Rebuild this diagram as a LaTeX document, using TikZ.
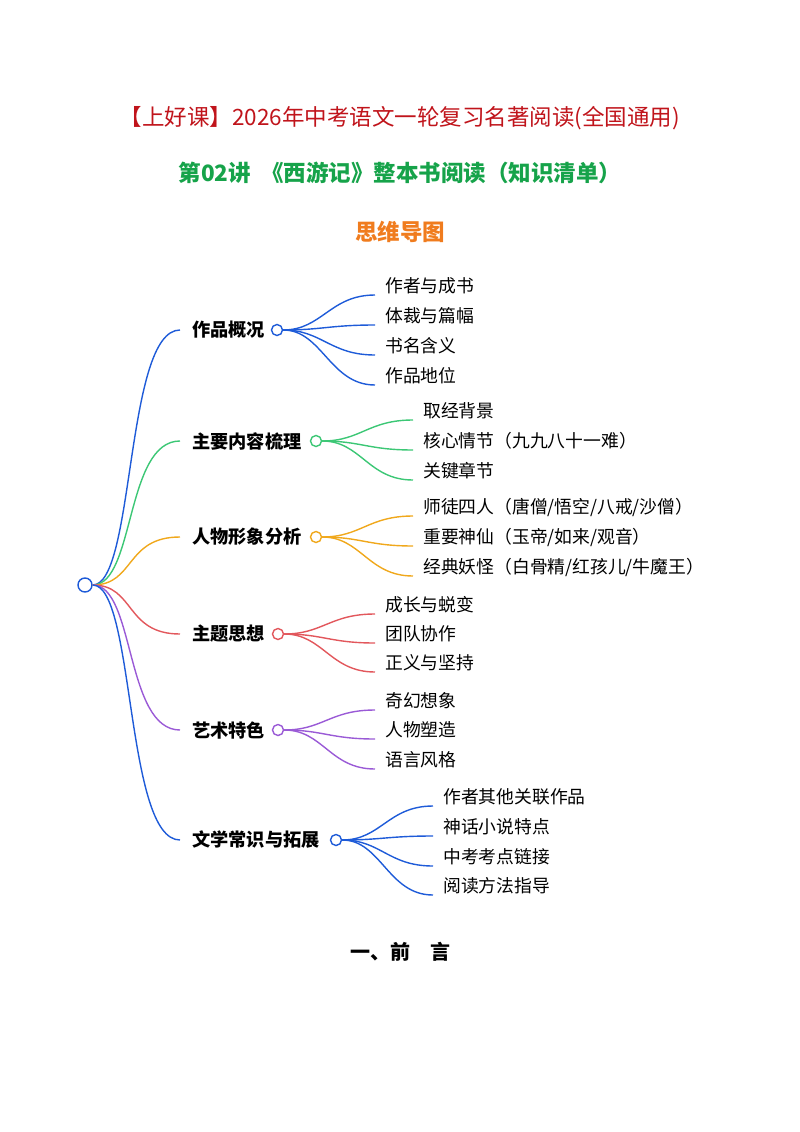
\documentclass[tikz,border=0pt]{standalone}
\usepackage{fontspec}
\setmainfont{Noto Sans CJK SC}
\definecolor{cblue}{HTML}{1E5BD8}
\definecolor{cgreen}{HTML}{3CC775}
\definecolor{corange}{HTML}{F0A81C}
\definecolor{cred}{HTML}{E2575C}
\definecolor{cpurple}{HTML}{9A5AD6}
\definecolor{ctitle}{HTML}{C0141B}
\definecolor{cgtitle}{HTML}{16A34A}
\definecolor{cotitle}{HTML}{F07C1E}
\tikzset{
 branch/.style={font=\fontsize{18.2}{21}\selectfont\bfseries, anchor=west, inner sep=0pt},
 leaf/.style={font=\fontsize{17.8}{21}\selectfont, anchor=west, inner sep=0pt},
 dot/.style={circle, draw, fill=white, line width=1.4pt, minimum size=11pt, inner sep=0pt},
 link/.style={line width=1.4pt},
}
\begin{document}
\begin{tikzpicture}[x=1pt,y=-1pt]
\useasboundingbox (0,0) rectangle (800,1132);
\node[font=\fontsize{22.5}{26}\selectfont, text=ctitle] (t1) at (400,118) {【上好课】2026年中考语文一轮复习名著阅读(全国通用)};
\node[font=\fontsize{22.5}{26}\selectfont\bfseries, text=cgtitle] (t2) at (400,173) {第02讲\ \ 《西游记》整本书阅读（知识清单）};
\node[font=\fontsize{22.5}{26}\selectfont\bfseries, text=cotitle] (t3) at (400,232) {思维导图};
\node[dot, draw=cblue, minimum size=14pt] (root) at (85,585) {};
\foreach \c/\lx/\ly/\cx/\name/\txt/\kids/\kx in {
 cblue/192/330/277/b1/作品概况/{286/作者与成书,316/体裁与篇幅,346/书名含义,376/作品地位}/385,
 cgreen/192/441/316/b2/主要内容梳理/{411/取经背景,441/核心情节（九九八十一难）,471/关键章节}/423,
 corange/192/537/316/b3/人物形象分析/{507/{师徒四人（唐僧/悟空/八戒/沙僧）},537/{重要神仙（玉帝/如来/观音）},567/{经典妖怪（白骨精/红孩儿/牛魔王）}}/423,
 cred/192/634/278/b4/主题思想/{605/成长与蜕变,634/团队协作,663/正义与坚持}/385,
 cpurple/192/730/278/b5/艺术特色/{701/奇幻想象,730/人物塑造,760/语言风格}/385,
 cblue/192/840/336/b6/文学常识与拓展/{797/作者其他关联作品,827/神话小说特点,857/中考考点链接,886/阅读方法指导}/443}
{
 \node[branch] (\name) at (\lx,\ly) {\txt};
 \node[dot, draw=\c] (\name c) at (\cx,\ly) {};
 \coordinate (\name s) at (180,\ly);
 \draw[link, \c] (root.east) .. controls (135,585) and (125,\ly) .. (\name s);
 \foreach \ky/\kt [count=\i] in \kids {
   \node[leaf] (\name k\i) at (\kx,\ky) {\kt};
   \coordinate (\name e\i) at (\kx-10,\ky+9);
   \draw[link, \c] (\name c.east) .. controls (\cx+45,\ly) and (\kx-55,\ky+9) .. (\name e\i);
 }
}
\node[font=\fontsize{20}{24}\selectfont\bfseries] (pre) at (400,952) {一、前\quad 言};
\end{tikzpicture}
\end{document}
